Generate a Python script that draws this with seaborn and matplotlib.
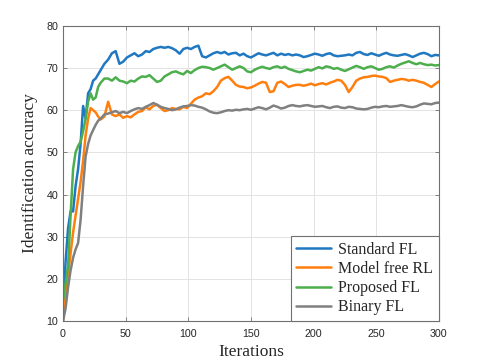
import numpy as np
import pandas as pd
import seaborn as sns
import matplotlib.pyplot as plt

# iteration grid: every 2 early on, then every 3
iterations = np.concatenate([np.arange(0, 31, 2), np.arange(33, 301, 3)])

standard_fl = [
    12, 24, 32, 36, 36, 42, 46, 52, 61, 58, 64, 65, 67, 67.5, 68.5, 69.5,
    71, 72, 73.5, 74, 71, 71.5, 72.5, 73, 73.5, 72.8,
    73.2, 74, 73.8, 74.5, 74.8, 75, 74.8, 75, 74.7, 74.2,
    73.4, 74.5, 74.8, 74.5, 75, 75.3, 72.8, 72.5, 73, 73.5,
    73.8, 73.5, 73.8, 73.2, 73.5, 73.6, 73, 73.4, 72.8, 72.5,
    73, 73.5, 73.2, 73, 73.3, 73.6, 73, 73.4, 73.1, 73.3,
    73, 73.2, 73, 72.6, 72.8, 73.1, 73.4, 73.2, 72.9, 73.3,
    73.5, 73, 72.8, 72.9, 73, 73.2, 73, 73.6, 73.8, 73.3,
    73.1, 73.5, 73.2, 72.9, 73.3, 73.6, 73.2, 73, 72.9, 73.1,
    73.3, 73, 72.6, 73, 73.4, 73.6, 73.3, 72.8, 73.1, 73,
]

model_free_rl = [
    10, 16, 21, 26, 31, 35, 39, 43, 48, 54, 58, 60.5, 60, 59.5, 58.5, 57.8,
    58.5, 62, 59, 58.6, 59, 58.2, 58.6, 58.3, 59, 59.6,
    59.8, 60.7, 60.2, 61, 61.3, 60.5, 59.8, 60, 60.5, 60.3,
    60.2, 60.8, 60.5, 61.5, 62.5, 63, 63.3, 64, 63.8, 64.5,
    65.5, 67, 67.6, 67.9, 67, 66, 65.6, 65.5, 65.2, 65.4,
    65.8, 66.3, 66.7, 66.5, 64.3, 64.5, 66.5, 66.8, 66.2, 65.5,
    65.8, 66, 66, 65.8, 66, 66.3, 65.9, 66.2, 66.4, 66.1,
    66.5, 66.8, 67.2, 67, 66, 64.3, 65.5, 67, 67.5, 67.8,
    67.9, 68.1, 68.2, 68, 67.9, 67.6, 66.7, 67, 67.2, 67.4,
    67.3, 67, 67.2, 67, 66.7, 66.5, 66, 65.5, 66.2, 66.8,
]

proposed_fl = [
    15, 19, 23, 35, 46, 50, 51.5, 52.5, 55, 58, 62, 64, 62.5, 63, 65.5, 66.5,
    67.5, 67.5, 67, 67.8, 67, 66.8, 66.4, 67, 66.8, 67.5,
    68, 67.9, 68.3, 67.5, 66.7, 67, 68, 68.5, 69, 69.2,
    68.8, 68.5, 69.3, 68.8, 69.5, 70, 70.3, 70.2, 70, 69.6,
    70, 70.4, 70.8, 70.2, 69.6, 70, 70.4, 70, 69.2, 69,
    69.6, 70, 70.3, 70, 69.8, 70.2, 70.4, 70, 70.3, 69.8,
    69.5, 69.2, 69, 69.3, 69.6, 69.4, 69.8, 70.2, 69.9, 70.4,
    70.2, 69.8, 70, 69.6, 69.3, 69.7, 70.1, 70.5, 70.2, 69.8,
    70.2, 70.4, 70, 69.6, 69.8, 70.2, 70.4, 70.1, 70.6, 71,
    71.3, 71.6, 71.2, 70.9, 71.2, 70.9, 70.7, 70.8, 70.6, 70.7,
]

binary_fl = [
    10, 13, 18, 22, 25, 27, 28.5, 34, 42, 49, 52, 54, 55.3, 56.5, 57.5, 58,
    59, 59.2, 59.5, 59.8, 59.3, 59.6, 59.3, 59.8, 60.2, 60.5,
    60.3, 60.8, 61.2, 61.7, 61.3, 60.8, 60.5, 60.3, 60, 60.2,
    60.6, 60.9, 61, 61.2, 61.1, 60.8, 60.6, 60.2, 59.7, 59.4,
    59.3, 59.5, 59.8, 60, 59.9, 60.1, 60, 60.2, 60.3, 60.1,
    60.4, 60.7, 60.5, 60.2, 60.6, 61.1, 60.8, 60.4, 60.6, 61,
    61.2, 61, 60.9, 61.1, 61.2, 61, 60.8, 60.9, 61, 60.7,
    60.5, 60.8, 60.9, 60.6, 60.5, 60.8, 60.7, 60.4, 60.3, 60.2,
    60.3, 60.6, 60.8, 60.7, 60.9, 61, 60.8, 60.9, 61, 61.2,
    61, 60.8, 60.7, 60.9, 61.3, 61.6, 61.5, 61.4, 61.7, 61.8,
]

methods = ["Standard FL", "Model free RL", "Proposed FL", "Binary FL"]
colors = ["#1f78c1", "#ff7f0e", "#4cae4c", "#808080"]


def build_frame():
    series = [standard_fl, model_free_rl, proposed_fl, binary_fl]
    parts = [
        pd.DataFrame({"iteration": iterations, "accuracy": vals, "method": name})
        for name, vals in zip(methods, series)
    ]
    return pd.concat(parts, ignore_index=True)


def main():
    sns.set_theme(style="whitegrid")
    plt.rcParams["font.family"] = ["Liberation Sans", "DejaVu Sans"]

    df = build_frame()

    fig = plt.figure(figsize=(4.85, 3.64), dpi=100)
    ax = fig.add_axes([0.13, 0.118, 0.775, 0.811])

    sns.lineplot(data=df, x="iteration", y="accuracy", hue="method",
                 hue_order=methods, palette=colors, estimator=None,
                 sort=False, linewidth=1.8, ax=ax)

    ax.set_xlim(0, 300)
    ax.set_ylim(10, 80)
    ax.set_xticks(range(0, 301, 50))
    ax.set_yticks(range(10, 81, 10))

    ax.grid(True, color="#e3e3e3", linewidth=0.7)
    for spine in ax.spines.values():
        spine.set_color("#707070")
        spine.set_linewidth(0.8)
    ax.tick_params(direction="in", length=3, width=0.6, color="#707070",
                   labelsize=7.7, labelcolor="#262626",
                   top=True, right=True, bottom=True, left=True)
    ax.tick_params(axis="x", pad=6)
    ax.tick_params(axis="y", pad=3.5)

    serif = ["Liberation Serif", "DejaVu Serif"]
    ax.set_xlabel("Iterations", family=serif, fontsize=12.5, labelpad=3)
    ax.set_ylabel("Identification accuracy", family=serif, fontsize=12.5,
                  labelpad=6)

    handles, labels = ax.get_legend_handles_labels()
    leg = ax.legend(handles, labels, loc="lower right", borderaxespad=0,
                    fancybox=False, framealpha=1, edgecolor="#707070",
                    prop={"family": serif, "size": 11.5},
                    handlelength=2.2, handletextpad=0.45, labelspacing=0.2,
                    borderpad=0.35)
    leg.get_frame().set_linewidth(0.8)

    fig.savefig("out.png", dpi=100)


if __name__ == '__main__':
    main()
